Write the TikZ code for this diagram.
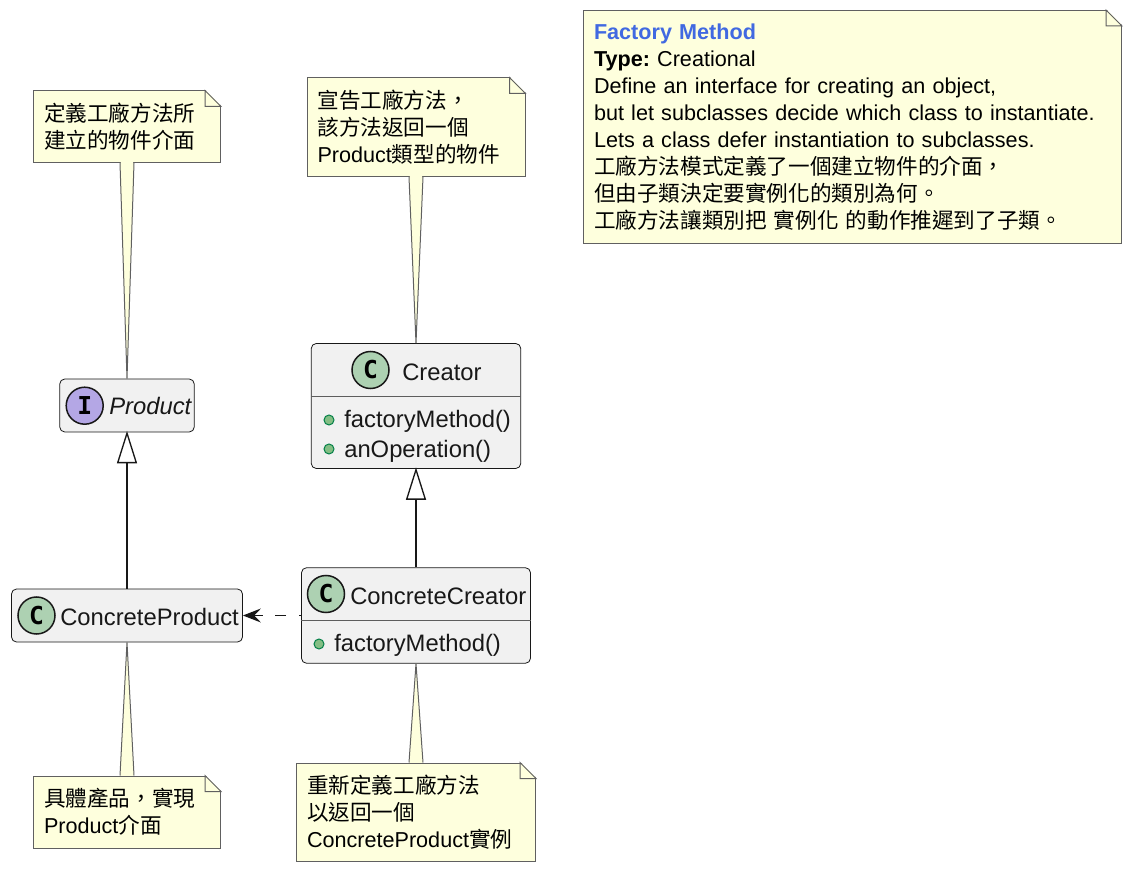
\documentclass[tikz,border=0pt]{standalone}
\usepackage{fontspec}
\usepackage{tikz}
\usetikzlibrary{arrows.meta}
\setmainfont{Liberation Sans}
\newfontfamily\cjk{Noto Sans CJK TC}
\newfontfamily\spotfont{DejaVu Sans Mono}
\frenchspacing
\newlength{\px}
\setlength{\px}{0.75pt}
\definecolor{classfill}{HTML}{F1F1F1}
\definecolor{linecol}{HTML}{181818}
\definecolor{notefill}{HTML}{FEFFDD}
\definecolor{noteline}{HTML}{606060}
\definecolor{spotC}{HTML}{ADD1B2}
\definecolor{spotI}{HTML}{B4A7E5}
\definecolor{dotfill}{HTML}{84BE84}
\definecolor{dotline}{HTML}{038048}
\definecolor{titlecol}{HTML}{4169E1}
\tikzset{
	classbox/.style={draw=linecol, fill=classfill, rounded corners=5\px, line width=0.8\px},
	spot/.style={draw=linecol, circle, line width=1.5\px, minimum size=37\px, inner sep=0pt, font=\spotfont\bfseries\fontsize{18.5}{18.5}\selectfont},
	dot/.style={draw=dotline, fill=dotfill, circle, line width=1\px, minimum size=10\px, inner sep=0pt},
	classtext/.style={anchor=base west, inner sep=0pt, text=linecol, font=\fontsize{17.85}{20}\selectfont},
	note/.style={draw=noteline, fill=notefill, line width=1\px, inner xsep=10.5\px, inner ysep=0pt, align=left, anchor=center, font=\fontsize{16.2}{20.25}\selectfont},
	sepline/.style={draw=linecol!70!white, line width=1\px},
	extends/.style={draw=linecol, line width=1.1pt, shorten >=-1.1pt, -{Triangle[fill=white, length=24.3pt, width=15pt, line width=1pt]}},
	depends/.style={draw=linecol, line width=1.1pt, dash pattern=on 8.25pt off 9.4pt, dash phase=6.5pt, -{Stealth[length=13.5pt, width=10.5pt, inset=5pt]}},
}
\begin{document}
\begin{tikzpicture}[x=0.75pt, y=-0.75pt, node distance={210\px}]
	\useasboundingbox (0,0) rectangle (1132,873);

	% classes
	\node[classbox, minimum width=134.5\px, minimum height=53\px] (product) at (127,405.5) {};
	\node[classbox, minimum width=231\px, minimum height=53\px] (concreteProduct) [below of=product] {};
	\node[classbox, minimum width=209.5\px, minimum height=125\px] (creator) at (416,406) {};
	\node[classbox, minimum width=229\px, minimum height=95.5\px] (concreteCreator) [below of=creator, node distance=209.5\px] {};

	% notes
	\node[note, text width=166\px, minimum height=71.5\px] (noteProduct) [above of=product, node distance=278.75\px] {{\cjk 定義工廠方法所}\\{\cjk 建立的物件介面}};
	\node[note, text width=197\px, minimum height=98.5\px] (noteCreator) [above of=creator, node distance=278.75\px] {{\cjk 宣告工廠方法，}\\{\cjk 該方法返回一個}\\Product{\cjk 類型的物件}};
	\node[note, text width=166\px, minimum height=72\px] (noteConcreteProduct) [below of=concreteProduct, node distance=196.5\px] {{\cjk 具體產品，實現}\\Product{\cjk 介面}};
	\node[note, text width=218\px, minimum height=98\px] (noteConcreteCreator) [below of=concreteCreator, node distance=196.5\px] {{\cjk 重新定義工廠方法}\\{\cjk 以返回一個}\\ConcreteProduct{\cjk 實例}};
	\node[note, text width=517\px, minimum height=233\px] (noteFactory) at (852.5,127) {\textcolor{titlecol}{\bfseries Factory Method}\\\textbf{Type:} Creational\\Define an interface for creating an object,\\but let subclasses decide which class to instantiate.\\Lets a class defer instantiation to subclasses.\\{\cjk 工廠方法模式定義了一個建立物件的介面，}\\{\cjk 但由子類決定要實例化的類別為何。}\\{\cjk 工廠方法讓類別把 實例化 的動作推遲到了子類。}};

	% folded corners
	\foreach \n in {noteProduct,noteCreator,noteConcreteProduct,noteConcreteCreator,noteFactory} {
		\fill[white] ([xshift=-16\px,yshift=1\px]\n.north east) -- ([xshift=1\px,yshift=1\px]\n.north east) -- ([xshift=1\px,yshift=-16\px]\n.north east) -- cycle;
		\draw[noteline, fill=notefill, line width=1\px] ([xshift=-16\px]\n.north east) -- ([xshift=-16\px,yshift=-16\px]\n.north east) -- ([yshift=-16\px]\n.north east) -- cycle;
	}

	% note tails
	\foreach \n/\c/\a/\b in {noteProduct/product/south/north,noteCreator/creator/south/north,noteConcreteProduct/concreteProduct/north/south,noteConcreteCreator/concreteCreator/north/south} {
		\draw[noteline, fill=notefill, line width=1\px] ([xshift=-7\px]\n.\a) -- (\c.\b) -- ([xshift=7\px]\n.\a);
		\draw[notefill, line width=1.4\px] ([xshift=-6.3\px]\n.\a) -- ([xshift=6.3\px]\n.\a);
	}

	% class contents
	\node[spot, fill=spotI] (productSpot) at (84.7,405.7) {I};
	\node[classtext, font=\itshape\fontsize{17.85}{20}\selectfont] (productName) at (109,415) {Product};
	\node[spot, fill=spotC] (concreteProductSpot) at (36.5,615.5) {C};
	\node[classtext] (concreteProductName) at (60,625) {ConcreteProduct};
	\node[spot, fill=spotC] (creatorSpot) at (370.5,370) {C};
	\node[classtext] (creatorName) at (402,381) {Creator};
	\node[dot] (creatorDot1) at (329,420) {};
	\node[classtext] (creatorMethod1) at (344,428) {factoryMethod()};
	\node[dot] (creatorDot2) at (329,449) {};
	\node[classtext] (creatorMethod2) at (344,458) {anOperation()};
	\node[spot, fill=spotC] (concreteCreatorSpot) at (326,594) {C};
	\node[classtext] (concreteCreatorName) at (350,604) {ConcreteCreator};
	\node[dot] (concreteCreatorDot) at (319,644) {};
	\node[classtext] (concreteCreatorMethod) at (334,651) {factoryMethod()};

	\draw[sepline] (creator.west |- 0,396.5) -- (creator.east |- 0,396.5);
	\draw[sepline] (concreteCreator.west |- 0,620.5) -- (concreteCreator.east |- 0,620.5);

	% relations
	\draw[extends] (concreteProduct.north) -- (product.south);
	\draw[extends] (concreteCreator.north) -- (creator.south);
	\draw[depends] (concreteCreator.west) -- (concreteProduct.east);
\end{tikzpicture}
\end{document}
